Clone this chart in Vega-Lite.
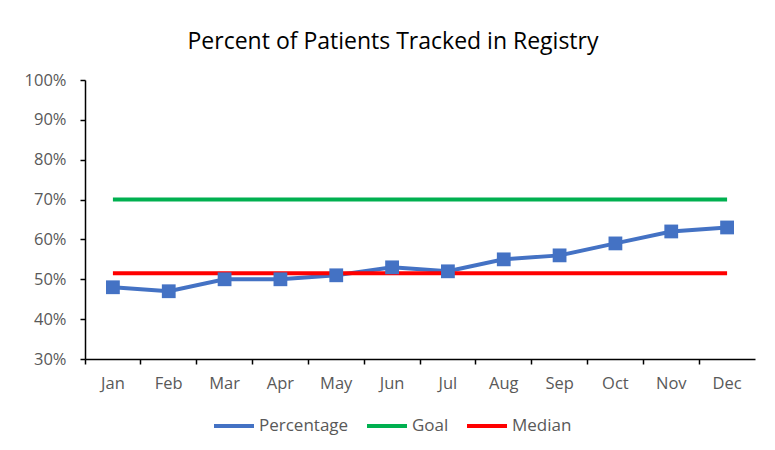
{
  "$schema": "https://vega.github.io/schema/vega-lite/v6.json",
  "width": 670,
  "height": 279,
  "autosize": "none",
  "padding": {"left": 85, "top": 80, "right": 20, "bottom": 91},
  "background": "white",
  "title": {
    "text": "Percent of Patients Tracked in Registry",
    "font": "Open Sans",
    "fontSize": 23,
    "fontWeight": "normal",
    "color": "#000000",
    "anchor": "middle",
    "dx": -27,
    "offset": 18
  },
  "data": {
    "values": [
      {"month": "Jan", "series": "Percentage", "value": 0.48},
      {"month": "Feb", "series": "Percentage", "value": 0.47},
      {"month": "Mar", "series": "Percentage", "value": 0.50},
      {"month": "Apr", "series": "Percentage", "value": 0.50},
      {"month": "May", "series": "Percentage", "value": 0.51},
      {"month": "Jun", "series": "Percentage", "value": 0.53},
      {"month": "Jul", "series": "Percentage", "value": 0.52},
      {"month": "Aug", "series": "Percentage", "value": 0.55},
      {"month": "Sep", "series": "Percentage", "value": 0.56},
      {"month": "Oct", "series": "Percentage", "value": 0.59},
      {"month": "Nov", "series": "Percentage", "value": 0.62},
      {"month": "Dec", "series": "Percentage", "value": 0.63},
      {"month": "Jan", "series": "Goal", "value": 0.70},
      {"month": "Feb", "series": "Goal", "value": 0.70},
      {"month": "Mar", "series": "Goal", "value": 0.70},
      {"month": "Apr", "series": "Goal", "value": 0.70},
      {"month": "May", "series": "Goal", "value": 0.70},
      {"month": "Jun", "series": "Goal", "value": 0.70},
      {"month": "Jul", "series": "Goal", "value": 0.70},
      {"month": "Aug", "series": "Goal", "value": 0.70},
      {"month": "Sep", "series": "Goal", "value": 0.70},
      {"month": "Oct", "series": "Goal", "value": 0.70},
      {"month": "Nov", "series": "Goal", "value": 0.70},
      {"month": "Dec", "series": "Goal", "value": 0.70},
      {"month": "Jan", "series": "Median", "value": 0.515},
      {"month": "Feb", "series": "Median", "value": 0.515},
      {"month": "Mar", "series": "Median", "value": 0.515},
      {"month": "Apr", "series": "Median", "value": 0.515},
      {"month": "May", "series": "Median", "value": 0.515},
      {"month": "Jun", "series": "Median", "value": 0.515},
      {"month": "Jul", "series": "Median", "value": 0.515},
      {"month": "Aug", "series": "Median", "value": 0.515},
      {"month": "Sep", "series": "Median", "value": 0.515},
      {"month": "Oct", "series": "Median", "value": 0.515},
      {"month": "Nov", "series": "Median", "value": 0.515},
      {"month": "Dec", "series": "Median", "value": 0.515}
    ]
  },
  "encoding": {
    "x": {
      "field": "month",
      "type": "ordinal",
      "sort": ["Jan","Feb","Mar","Apr","May","Jun","Jul","Aug","Sep","Oct","Nov","Dec"],
      "scale": {"type": "band", "paddingInner": 0, "paddingOuter": 0},
      "bandPosition": 0.5,
      "axis": {
        "title": null,
        "labelAngle": 0,
        "bandPosition": 0,
        "labelAlign": "center",
        "domainColor": "#000000",
        "domainWidth": 1.5,
        "tickColor": "#000000",
        "tickWidth": 1.5,
        "tickSize": 5,
        "labelPadding": 11,
        "labelFont": "Open Sans",
        "labelFontSize": 16.5,
        "labelColor": "#595959",
        "grid": false
      }
    },
    "y": {
      "field": "value",
      "type": "quantitative",
      "scale": {"domain": [0.3, 1.0], "nice": false, "zero": false},
      "axis": {
        "title": null,
        "format": ".0%",
        "values": [0.3, 0.4, 0.5, 0.6, 0.7, 0.8, 0.9, 1.0],
        "domainColor": "#000000",
        "domainWidth": 1.5,
        "tickColor": "#000000",
        "tickWidth": 1.5,
        "tickSize": 5,
        "labelPadding": 14,
        "labelFont": "Open Sans",
        "labelFontSize": 16.5,
        "labelColor": "#595959",
        "grid": false
      }
    }
  },
  "layer": [
    {
      "mark": {"type": "line", "strokeWidth": 4},
      "encoding": {
        "color": {
          "field": "series",
          "type": "nominal",
          "scale": {"domain": ["Percentage", "Goal", "Median"], "range": ["#4472C4", "#00B050", "#FF0000"]},
          "legend": {
            "title": null,
            "orient": "none",
            "direction": "horizontal",
            "legendX": 127,
            "legendY": 324,
            "symbolType": "stroke",
            "symbolSize": 1600,
            "symbolStrokeWidth": 4,
            "labelOffset": 3,
            "columnPadding": 10,
            "labelFont": "Open Sans",
            "labelFontSize": 17,
            "labelColor": "#595959"
          }
        },
        "order": {"field": "series"}
      }
    },
    {
      "transform": [{"filter": "datum.series === 'Percentage'"}],
      "mark": {"type": "point", "shape": "square", "filled": true, "size": 190, "opacity": 1, "color": "#4472C4"}
    }
  ],
  "config": {
    "view": {"stroke": null}
  }
}
